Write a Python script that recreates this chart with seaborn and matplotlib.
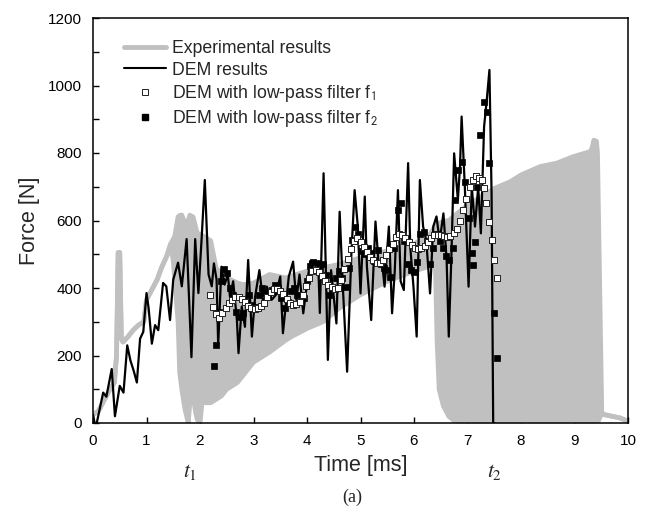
import numpy as np
import pandas as pd
import matplotlib
matplotlib.use("Agg")
import matplotlib.pyplot as plt
import seaborn as sns
from matplotlib.lines import Line2D

# ---------------- data ----------------
exp_time = [0.00, 0.10, 0.20, 0.30, 0.40, 0.44, 0.47, 0.50, 0.53, 0.56, 0.65, 0.75,
             0.85, 0.95, 1.00, 1.10, 1.20, 1.28, 1.38, 1.45, 1.50, 1.53, 1.59, 1.62,
             1.66, 1.70, 1.72, 1.78, 1.81, 1.85, 1.87, 1.92, 1.95, 2.00, 2.05, 2.10,
             2.20, 2.30, 2.40, 2.50, 2.70, 2.80, 3.00, 3.30, 3.60, 3.70, 4.00, 4.30,
             4.60, 5.00, 5.50, 6.00, 6.30, 6.40, 6.43, 6.47, 6.55, 6.65, 6.80, 7.00,
             7.50, 7.80, 8.00, 8.36, 8.67, 8.97, 9.29, 9.33, 9.36, 9.41, 9.43, 9.51,
             9.55, 9.70, 9.85, 10.0]
exp_upper = [25, 35, 65, 95, 120, 200, 505, 505, 250, 240, 255, 275,
             290, 300, 365, 395, 425, 460, 495, 530, 545, 555, 611, 615,
             616, 600, 582, 600, 616, 612, 611, 580, 560, 560, 555, 550,
             540, 460, 440, 430, 415, 410, 415, 440, 430, 435, 450, 460,
             470, 490, 510, 530, 560, 585, 590, 592, 598, 600, 620, 645,
             695, 715, 735, 760, 770, 789, 804, 815, 838, 835, 800, 30,
             25, 20, 15, 5]
exp_lower = [25, 35, 65, 95, 120, 200, 505, 505, 250, 240, 255, 275,
             290, 300, 365, 395, 425, 460, 495, 530, 480, 420, 300, 150,
             100, 60, 40, 0, 60, 120, 80, 30, 10, 0, 80, 60,
             60, 70, 80, 100, 120, 140, 180, 210, 245, 255, 280, 300,
             340, 380, 420, 450, 465, 470, 250, 100, 50, 20, 0, 0,
             0, 0, 0, 0, 0, 0, 0, 0, 0, 0, 0, 30,
             25, 20, 15, 5]

dem_time = [0.00, 0.03, 0.07, 0.19, 0.25, 0.35, 0.41, 0.50, 0.57, 0.64, 0.70, 0.76,
            0.82, 0.88, 0.94, 1.00, 1.04, 1.10, 1.16, 1.22, 1.31, 1.37, 1.44, 1.50,
            1.59, 1.66, 1.75, 1.84, 1.91, 1.97, 2.03, 2.09, 2.16, 2.22, 2.26, 2.31,
            2.34, 2.40, 2.46, 2.52, 2.56, 2.62, 2.69, 2.72, 2.78, 2.84, 2.90, 2.97,
            3.03, 3.11, 3.19, 3.25, 3.34, 3.42, 3.50, 3.55, 3.62, 3.66, 3.74, 3.80,
            3.86, 3.93, 3.99, 4.06, 4.14, 4.21, 4.24, 4.31, 4.39, 4.45, 4.55, 4.61,
            4.67, 4.75, 4.83, 4.89, 4.95, 5.00, 5.08, 5.12, 5.20, 5.28, 5.34, 5.40,
            5.45, 5.53, 5.59, 5.64, 5.70, 5.75, 5.81, 5.89, 5.93, 5.99, 6.05, 6.11,
            6.17, 6.23, 6.30, 6.36, 6.42, 6.48, 6.55, 6.61, 6.65, 6.70, 6.75, 6.82,
            6.86, 6.89, 6.95, 7.02, 7.08, 7.14, 7.20, 7.25, 7.31, 7.36, 7.41, 7.45,
            7.48, 7.50]
dem_force = [25, 0, 0, 90, 78, 160, 20, 110, 90, 230, 185, 155,
             120, 250, 270, 385, 340, 235, 290, 275, 415, 405, 305, 425,
             475, 405, 545, 195, 545, 385, 545, 720, 440, 405, 473, 425,
             230, 463, 410, 440, 374, 420, 305, 207, 345, 285, 483, 256,
             374, 453, 345, 404, 365, 380, 434, 266, 374, 434, 478, 365,
             440, 325, 400, 480, 478, 473, 326, 740, 187, 453, 295, 626,
             404, 152, 503, 690, 582, 384, 671, 463, 305, 597, 470, 480,
             404, 582, 325, 450, 690, 420, 394, 770, 522, 404, 256, 720,
             582, 540, 384, 582, 612, 540, 621, 483, 256, 500, 799, 661,
             760, 908, 700, 404, 700, 582, 700, 562, 878, 957, 1046, 680,
             0, 0]

f1_time = [2.19, 2.25, 2.30, 2.36, 2.42, 2.48, 2.54, 2.60, 2.66, 2.72, 2.78, 2.84,
           2.90, 2.96, 3.02, 3.08, 3.14, 3.20, 3.26, 3.32, 3.38, 3.44, 3.50, 3.56,
           3.62, 3.68, 3.74, 3.80, 3.86, 3.92, 3.98, 4.04, 4.10, 4.16, 4.22, 4.28,
           4.34, 4.40, 4.46, 4.52, 4.58, 4.64, 4.70, 4.76, 4.82, 4.88, 4.94, 5.00,
           5.06, 5.12, 5.18, 5.24, 5.30, 5.36, 5.42, 5.48, 5.54, 5.60, 5.66, 5.72,
           5.78, 5.84, 5.90, 5.96, 6.02, 6.08, 6.14, 6.20, 6.26, 6.32, 6.38, 6.44,
           6.50, 6.56, 6.62, 6.68, 6.74, 6.80, 6.86, 6.92, 6.98, 7.04, 7.10, 7.16,
           7.22, 7.27, 7.31, 7.35, 7.41, 7.45, 7.50, 7.55]
f1_force = [379, 345, 322, 312, 325, 340, 355, 364, 372, 373, 368, 358,
            348, 340, 338, 340, 346, 355, 372, 388, 398, 398, 392, 382,
            368, 356, 350, 352, 360, 380, 405, 430, 450, 452, 446, 436,
            422, 410, 402, 396, 400, 424, 455, 485, 515, 540, 547, 537,
            522, 508, 493, 483, 474, 473, 483, 498, 515, 530, 550, 560,
            557, 547, 537, 527, 518, 516, 518, 525, 535, 548, 556, 558,
            557, 553, 551, 553, 562, 575, 598, 630, 665, 698, 720, 733,
            727, 720, 695, 651, 597, 542, 483, 429]

f2_time = [2.26, 2.30, 2.35, 2.40, 2.45, 2.50, 2.56, 2.62, 2.68, 2.74, 2.80, 2.86,
           2.92, 2.98, 3.04, 3.10, 3.16, 3.22, 3.28, 3.34, 3.40, 3.46, 3.52, 3.58,
           3.64, 3.70, 3.76, 3.82, 3.88, 3.94, 4.00, 4.06, 4.12, 4.18, 4.24, 4.30,
           4.36, 4.42, 4.48, 4.54, 4.60, 4.66, 4.72, 4.78, 4.84, 4.90, 4.96, 5.02,
           5.08, 5.14, 5.20, 5.26, 5.32, 5.38, 5.44, 5.50, 5.56, 5.62, 5.70, 5.76,
           5.82, 5.88, 5.94, 6.00, 6.06, 6.12, 6.18, 6.24, 6.30, 6.36, 6.42, 6.48,
           6.54, 6.60, 6.66, 6.72, 6.77, 6.83, 6.89, 6.95, 7.02, 7.08, 7.11, 7.14,
           7.18, 7.23, 7.30, 7.36, 7.41, 7.50, 7.55]
f2_force = [168, 230, 330, 420, 455, 445, 400, 380, 330, 315, 325, 360,
            380, 350, 345, 380, 400, 385, 380, 395, 410, 400, 370, 340,
            360, 390, 400, 380, 360, 370, 420, 465, 478, 475, 460, 470,
            440, 380, 400, 430, 450, 430, 404, 460, 542, 582, 560, 510,
            500, 520, 505, 480, 513, 470, 460, 453, 434, 520, 631, 651,
            540, 470, 453, 448, 478, 560, 567, 540, 470, 520, 560, 540,
            520, 495, 483, 520, 661, 750, 774, 715, 607, 503, 468, 537,
            700, 853, 952, 922, 770, 325, 192]

x_ticks = list(range(0, 11))
y_ticks = list(range(0, 1201, 200))
y_minor = list(range(100, 1200, 200))

legend_labels = ["Experimental results", "DEM results",
                 "DEM with low-pass filter f$_{\\mathsf{1}}$",
                 "DEM with low-pass filter f$_{\\mathsf{2}}$"]

# ---------------- style ----------------
sns.set_style("ticks")
plt.rcParams["font.family"] = ["Liberation Sans", "DejaVu Sans"]
plt.rcParams["mathtext.fontset"] = "stix"

GRAY = "#c0c0c0"

fig = plt.figure(figsize=(6.53, 5.15), dpi=100)
ax = fig.add_axes([93 / 653, (515 - 423) / 515, 535 / 653, 405 / 515])

# experimental results: thick gray trace + dense oscillation band
ax.fill_between(exp_time, exp_lower, exp_upper, color=GRAY, lw=0, zorder=1)
sns.lineplot(x=exp_time, y=exp_upper, color=GRAY, lw=3.4, ax=ax,
             estimator=None, sort=False, zorder=1)
sns.lineplot(x=exp_time, y=exp_lower, color=GRAY, lw=3.4, ax=ax,
             estimator=None, sort=False, zorder=1)

# DEM results
sns.lineplot(x=dem_time, y=dem_force, color="black", lw=1.6, ax=ax,
             estimator=None, sort=False, zorder=3)

# filtered results
sns.scatterplot(x=f2_time, y=f2_force, marker="s", s=22, color="black",
                edgecolor="black", linewidth=0.5, ax=ax, zorder=4)
sns.scatterplot(x=f1_time, y=f1_force, marker="s", s=22, facecolor="white",
                edgecolor="#222222", linewidth=0.7, ax=ax, zorder=5)

ax.set_xlim(0, 10)
ax.set_ylim(0, 1200)
ax.set_xticks(x_ticks)
ax.set_yticks(y_ticks)
ax.set_yticks(y_minor, minor=True)
ax.tick_params(axis="both", which="both", direction="in", length=4.5, width=1.0,
               top=False, right=False, labelsize=11, pad=8, colors="black")
for sp in ax.spines.values():
    sp.set_linewidth(1.1)
    sp.set_color("black")
    sp.set_visible(True)

ax.set_xlabel("Time [ms]", fontsize=15.5)
ax.set_ylabel("Force [N]", fontsize=15.5)
ax.xaxis.set_label_coords(0.5, -0.078)
ax.yaxis.set_label_coords(-0.10, 0.5)

# legend
handles = [
    Line2D([], [], color=GRAY, lw=3.5),
    Line2D([], [], color="black", lw=1.5),
    Line2D([], [], ls="none", marker="s", markersize=5.0, markerfacecolor="white",
           markeredgecolor="#222222", markeredgewidth=0.7),
    Line2D([], [], ls="none", marker="s", markersize=5.0, markerfacecolor="black",
           markeredgecolor="black"),
]
ax.legend(handles, legend_labels, loc="upper left", bbox_to_anchor=(0.058, 0.945),
          frameon=False, fontsize=12.7, handlelength=2.4, handletextpad=0.3,
          labelspacing=0.24, borderpad=0, borderaxespad=0)

# annotations below the axis
ax.text(1.81, -0.12, "$t_1$", transform=ax.get_xaxis_transform(),
        ha="center", va="center", fontsize=15.5)
ax.text(7.51, -0.12, "$t_2$", transform=ax.get_xaxis_transform(),
        ha="center", va="center", fontsize=15.5)
fig.text(352 / 653, 1 - 497 / 515, "(a)", ha="center", va="center",
         fontsize=13, family=["Liberation Serif", "DejaVu Serif"])

fig.savefig("out.png", dpi=100, facecolor="white")
